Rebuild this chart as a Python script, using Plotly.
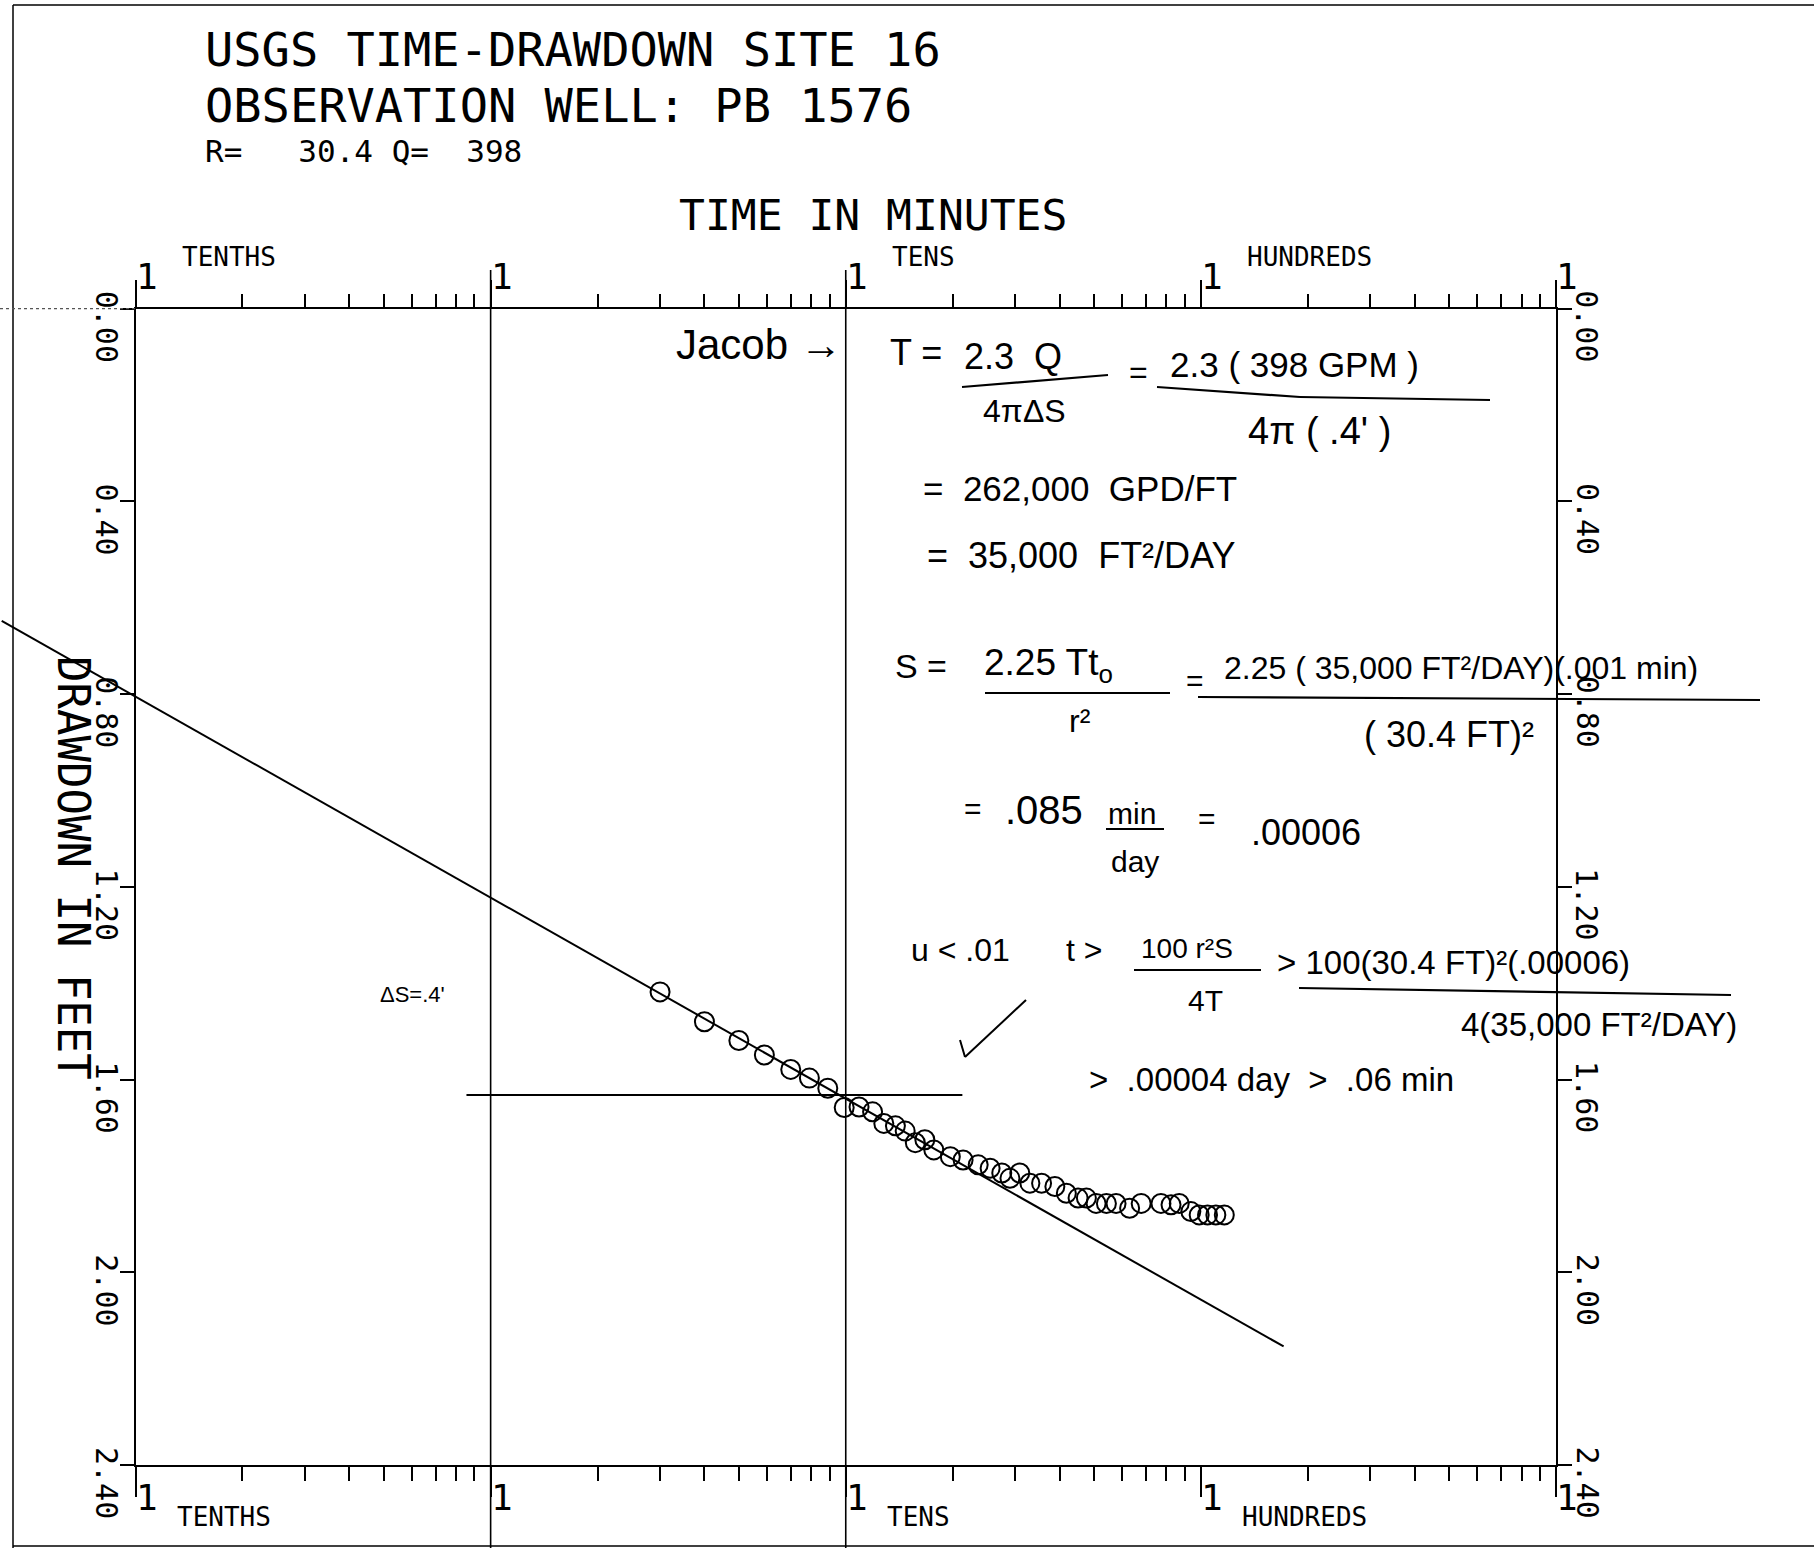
import math
import plotly.graph_objects as go

# ---------------- data ----------------
time_min = [3.0, 4.0, 5.0, 5.9, 7.0, 7.9, 8.9, 9.9, 10.9, 11.9, 12.8, 13.8, 14.7,
            15.7, 16.7, 17.7, 19.7, 21.4, 23.6, 25.5, 27.5, 29.0, 30.9, 33.0, 35.6,
            38.8, 41.8, 45.1, 47.6, 50.7, 54.2, 57.7, 63.0, 67.9, 77.2, 82.4, 86.9,
            93.7, 98.9, 104.4, 110.2, 116.4]
drawdown_ft = [1.418, 1.480, 1.519, 1.549, 1.579, 1.597, 1.618, 1.658, 1.657, 1.667,
               1.691, 1.696, 1.707, 1.731, 1.725, 1.746, 1.760, 1.767, 1.777, 1.784,
               1.794, 1.805, 1.794, 1.815, 1.815, 1.822, 1.836, 1.846, 1.846, 1.857,
               1.857, 1.857, 1.867, 1.857, 1.857, 1.860, 1.857, 1.874, 1.881, 1.881,
               1.881, 1.881]

# hand-drawn Jacob straight line (end points) and the delta-s marker line
fit_t = [0.042, 171.0]
fit_s = [0.648, 2.154]
ds_t = [0.855, 21.3]
ds_s = [1.632, 1.632]

decades = [0.1, 1, 10, 100, 1000]
decade_names = ["TENTHS", "", "TENS", "HUNDREDS"]
y_ticks = [0.0, 0.4, 0.8, 1.2, 1.6, 2.0, 2.4]
y_tick_text = ["0.00", "0.40", "0.80", "1.20", "1.60", "2.00", "2.40"]
grid_decades = [1, 10]

title_lines = ["USGS TIME-DRAWDOWN SITE 16", "OBSERVATION WELL: PB 1576", "R=   30.4 Q=  398"]

# ---------------- layout geometry (pixels) ----------------
W, H = 1814, 1548
PL, PR, PT, PB = 135.5, 1556.0, 308.7, 1465.0


def px(x):
    return x / W


def py(y):
    return 1 - y / H


MONO = "DejaVu Sans Mono"
HAND = "Liberation Sans Narrow, Liberation Sans, Arial"

minor_vals = [d * k for d in decades[:-1] for k in range(2, 10)]

fig = go.Figure()

# observed data
fig.add_trace(go.Scatter(
    x=time_min, y=drawdown_ft, mode="markers", xaxis="x", yaxis="y",
    marker=dict(symbol="circle-open", size=19, color="black", line=dict(width=2, color="black")),
    showlegend=False, hoverinfo="skip"))

# dummy traces so that the top / right axes are drawn
fig.add_trace(go.Scatter(x=[None], y=[None], xaxis="x3", yaxis="y", showlegend=False, hoverinfo="skip"))
fig.add_trace(go.Scatter(x=[None], y=[None], xaxis="x", yaxis="y3", showlegend=False, hoverinfo="skip"))

# full-page overlay axes (same scale) for the lines that run past the frame
fig.add_trace(go.Scatter(x=fit_t, y=fit_s, mode="lines", xaxis="x2", yaxis="y2",
                         line=dict(color="black", width=2), showlegend=False, hoverinfo="skip"))
fig.add_trace(go.Scatter(x=ds_t, y=ds_s, mode="lines", xaxis="x2", yaxis="y2",
                         line=dict(color="black", width=2), showlegend=False, hoverinfo="skip"))

decade_px = (PR - PL) / 4.0
ft_px = (PB - PT) / 2.4
x2_range = [-1 - PL / decade_px, 3 + (W - PR) / decade_px]
y2_range = [2.4 + (H - PB) / ft_px, 0 - PT / ft_px]

common_x = dict(type="log", range=[-1, 3], domain=[px(PL), px(PR)], showgrid=False,
                zeroline=False, showline=True, linecolor="black", linewidth=2,
                ticks="outside", tickvals=decades, tickcolor="black", tickwidth=1.6,
                showticklabels=False)
common_y = dict(range=[2.4, 0], domain=[py(PB), py(PT)], showgrid=False, zeroline=False,
                showline=True, linecolor="black", linewidth=2, ticks="outside",
                tickvals=y_ticks, ticklen=14, tickcolor="black", tickwidth=1.6,
                showticklabels=False)

fig.update_layout(
    width=W, height=H, margin=dict(l=0, r=0, t=0, b=0),
    paper_bgcolor="white", plot_bgcolor="rgba(0,0,0,0)",
    xaxis=dict(common_x, anchor="y", side="bottom", ticklen=30,
               minor=dict(tickvals=minor_vals, ticks="outside", ticklen=14, tickwidth=1.6,
                          tickcolor="black", showgrid=False)),
    xaxis3=dict(common_x, anchor="y", side="top", overlaying="x", ticklen=27,
                minor=dict(tickvals=minor_vals, ticks="outside", ticklen=13, tickwidth=1.6,
                           tickcolor="black", showgrid=False)),
    yaxis=dict(common_y, anchor="x", side="left"),
    yaxis3=dict(common_y, anchor="x", side="right", overlaying="y"),
    xaxis2=dict(type="log", range=x2_range, domain=[0, 1], anchor="y2", visible=False),
    yaxis2=dict(range=y2_range, domain=[0, 1], anchor="x2", visible=False),
)

ann = []


def note(text, x, y, size, family=MONO, xref="paper", xanchor="left", angle=0, xshift=0):
    xv = px(x) if xref == "paper" else math.log10(x)
    ann.append(dict(text=text, x=xv, y=py(y), xref=xref, yref="paper",
                    xanchor=xanchor, yanchor="middle", showarrow=False, textangle=angle,
                    xshift=xshift, font=dict(family=family, size=size, color="black")))


# title block
note(title_lines[0], 203, 49, 47)
note(title_lines[1], 203, 106, 47)
note(title_lines[2], 203, 151, 31)
note("TIME IN MINUTES", 677, 215, 43)

# decade markers and names
for d in decades:
    note("1", d, 276, 36, xref="x", xshift=-2)
    note("1", d, 1497, 36, xref="x", xshift=-2)
for d, name in zip(decades[:-1], decade_names):
    if name:
        note(name, d, 257, 26, xref="x", xshift=44)
        note(name, d, 1517, 26, xref="x", xshift=39)

# rotated y tick labels (left and right)
for v, t in zip(y_ticks, y_tick_text):
    ycen = PT + v * ft_px + 17.5
    note(t, PL - 29, ycen, 30, xanchor="center", angle=90)
    note(t, PR + 31, ycen, 30, xanchor="center", angle=90)

note("DRAWDOWN IN FEET", 73, 868, 44, xanchor="center", angle=90)

# hand-written notes
hand = [
    ("Jacob \u2192", 674, 345, 42),
    ("T =", 888, 352, 36),
    ("2.3  Q", 962, 357, 36),
    ("4\u03c0\u0394S", 981, 411, 32),
    ("=", 1127, 372, 32),
    ("2.3 ( 398 GPM )", 1168, 364, 35),
    ("4\u03c0 ( .4' )", 1246, 431, 38),
    ("=  262,000  GPD/FT", 921, 488, 35),
    ("=  35,000  FT\u00b2/DAY", 925, 555, 36),
    ("S =", 893, 666, 34),
    ("2.25 Tt<sub>o</sub>", 982, 665, 37),
    ("r\u00b2", 1067, 721, 32),
    ("=", 1184, 680, 30),
    ("2.25 ( 35,000 FT\u00b2/DAY)(.001 min)", 1222, 668, 32),
    ("( 30.4 FT)\u00b2", 1362, 734, 36),
    ("=", 962, 808, 30),
    (".085", 1003, 810, 40),
    ("min", 1106, 813, 30),
    ("day", 1109, 862, 30),
    ("=", 1196, 818, 30),
    (".00006", 1249, 832, 36),
    ("\u0394S=.4'", 378, 995, 22),
    ("u < .01", 909, 950, 32),
    ("t >", 1064, 950, 32),
    ("100 r\u00b2S", 1139, 948, 28),
    ("4T", 1186, 1000, 30),
    ("> 100(30.4 FT)\u00b2(.00006)", 1275, 962, 33),
    ("4(35,000 FT\u00b2/DAY)", 1459, 1024, 33),
    (">  .00004 day  >  .06 min", 1087, 1079, 33),
]
for t, x, y, s in hand:
    note(t, x, y, s, family=HAND)

fig.update_layout(annotations=ann)

# shapes: fraction bars, check mark, decade grid lines, page border
shapes = []


def seg(x0, y0, x1, y1, w=2.2, dash="solid", color="black"):
    shapes.append(dict(type="line", xref="paper", yref="paper", x0=px(x0), y0=py(y0),
                       x1=px(x1), y1=py(y1), line=dict(color=color, width=w, dash=dash)))


seg(962, 387, 1108, 375)
seg(1157, 387, 1300, 397)
seg(1300, 397, 1490, 400)
seg(985, 693, 1170, 693)
seg(1198, 697, 1760, 700)
seg(1106, 829, 1164, 829)
seg(1134, 970, 1261, 970)
seg(1299, 988, 1731, 995)

# hand-drawn check mark
seg(960, 1040, 965, 1057, w=2)
seg(965, 1057, 1026, 1000, w=2)

for d in grid_decades:
    shapes.append(dict(type="line", xref="x", yref="paper", x0=d, x1=d, y0=0, y1=py(270),
                       line=dict(color="black", width=1.6)))

# scanned page border
seg(13, 5, W, 5, w=1.5)
seg(13, 5, 13, H, w=1.5)
seg(13, 1546, W, 1546, w=1.5)
seg(0, PT, PL, PT, w=1.2, dash="dot", color="#555")

fig.update_layout(shapes=shapes)

fig.write_html("out.html", config={"displayModeBar": False},
               post_script="document.body.style.margin='0';")
